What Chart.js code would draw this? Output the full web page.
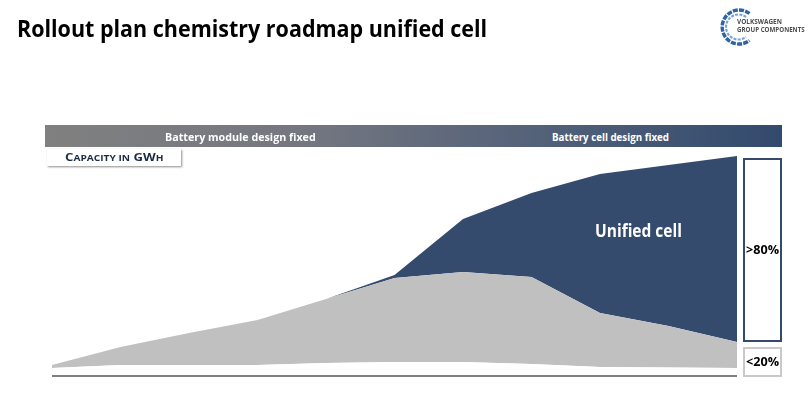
<!DOCTYPE html>
<html><head><meta charset="utf-8">
<script src="https://cdn.jsdelivr.net/npm/chart.js@4/dist/chart.umd.min.js"></script>
<style>
html,body{margin:0;padding:0;background:#fff;}
#wrap{position:relative;width:811px;height:395px;overflow:hidden;font-family:"Open Sans",Lato,sans-serif;}
#c{position:absolute;left:0;top:0;}
.t{position:absolute;white-space:nowrap;transform-origin:0 0;line-height:1;font-weight:700;}
.sm{font-size:8.5px;}
#banner{position:absolute;left:45px;top:125px;width:737px;height:22px;background:linear-gradient(to right,#808080 0%,#747780 35%,#505f78 70%,#324a6d 100%);}
#capbox{position:absolute;left:47px;top:149px;width:134px;height:17px;background:#fff;box-shadow:1px 1px 2px rgba(0,0,0,0.45);}
#box80{position:absolute;left:743px;top:158px;width:35px;height:180px;border:2px solid #34496b;background:#fff;}
#box20{position:absolute;left:743px;top:347px;width:35px;height:26px;border:2px solid #c9c9c9;background:#fff;}
#logo{position:absolute;left:716px;top:4px;}
</style></head><body>
<div id="wrap">
<canvas id="c" width="811" height="395"></canvas>
<div id="banner"></div>
<div id="capbox"></div>
<div id="box80"></div>
<div id="box20"></div>
<svg id="logo" width="40" height="46" viewBox="0 0 40 46">
  <path d="M 33.5 9.5 A 17 17 0 1 0 33.5 36.5" fill="none" stroke="#2f63a3" stroke-width="3.4" stroke-dasharray="5 1.2"/>
  <path d="M 30 13 A 12.5 12.5 0 1 0 30 33" fill="none" stroke="#7aa6d6" stroke-width="2.2" stroke-dasharray="3 1.2"/>
</svg>
<div id="title" class="t" style="font-size:24px;color:#000;">Rollout plan chemistry roadmap unified cell</div>
<div id="b1" class="t" style="font-size:11px;color:#fff;">Battery module design fixed</div>
<div id="b2" class="t" style="font-size:11px;color:#fff;">Battery cell design fixed</div>
<div id="cap" class="t" style="font-size:11px;color:#1c2b45;">C<span class="sm">APACITY IN</span> GW<span class="sm">H</span></div>
<div id="uc" class="t" style="font-size:18px;color:#fff;">Unified cell</div>
<div id="p80" class="t" style="font-size:13px;color:#000;">&gt;80%</div>
<div id="p20" class="t" style="font-size:13px;color:#000;">&lt;20%</div>
<div id="l1" class="t" style="font-size:7px;color:#4d4d4d;">VOLKSWAGEN</div>
<div id="l2" class="t" style="font-size:7px;color:#4d4d4d;">GROUP COMPONENTS</div>
</div>
<script>
// ---- data ----
const years = ['2018','2019','2020','2021','2022','2023','2024','2025','2026','2027','2028'];
const baseGap = [7, 10, 10, 10, 12, 13, 13, 11, 8, 7.5, 7];
const otherCells = [3, 18, 32, 45, 64, 84, 90, 87, 54, 41.5, 26];
const unifiedCell = [0, 0, 0, 0, 0, 3, 53, 84, 139, 161, 186];
const bannerLabels = ['Battery module design fixed', 'Battery cell design fixed'];
const shareLabels = ['>80%', '<20%'];

const axisLine = {
  id: 'axisLine',
  afterDatasetsDraw(chart) {
    const {ctx, chartArea: a} = chart;
    ctx.save();
    ctx.strokeStyle = '#7f7f7f';
    ctx.lineWidth = 2;
    ctx.beginPath();
    ctx.moveTo(a.left, a.bottom + 1);
    ctx.lineTo(a.right, a.bottom + 1);
    ctx.stroke();
    ctx.restore();
  }
};

new Chart(document.getElementById('c'), {
  type: 'line',
  data: {
    labels: years,
    datasets: [
      {label: 'Base', data: baseGap, fill: 'origin', backgroundColor: '#ffffff', borderColor: 'rgba(0,0,0,0)', borderWidth: 0, pointRadius: 0},
      {label: 'Other cells', data: otherCells, fill: '-1', backgroundColor: '#c0c0c0', borderColor: 'rgba(0,0,0,0)', borderWidth: 0, pointRadius: 0},
      {label: 'Unified cell', data: unifiedCell, fill: '-1', backgroundColor: '#344b6e', borderColor: 'rgba(0,0,0,0)', borderWidth: 0, pointRadius: 0}
    ]
  },
  options: {
    responsive: false,
    animation: false,
    devicePixelRatio: 1,
    layout: {padding: {left: 52, right: 74, top: 155, bottom: 20}},
    elements: {line: {tension: 0}},
    scales: {
      x: {display: false, offset: false},
      y: {display: false, stacked: true, min: 0, max: 220}
    },
    plugins: {legend: {display: false}, tooltip: {enabled: false}}
  },
  plugins: [axisLine]
});

document.getElementById('b1').textContent = bannerLabels[0];
document.getElementById('b2').textContent = bannerLabels[1];
document.getElementById('p80').textContent = shareLabels[0];
document.getElementById('p20').textContent = shareLabels[1];

// place text: fit width, position by baseline (Open Sans metrics, line-height 1)
function place(id, o) {
  const el = document.getElementById(id);
  const fs = parseFloat(el.style.fontSize);
  const w = el.offsetWidth;
  const s = o.width / w;
  el.style.transform = 'scaleX(' + s + ')';
  el.style.left = (o.cx !== undefined ? o.cx - o.width / 2 : o.x) + 'px';
  let baseline = o.baseline !== undefined ? o.baseline : o.cy + 0.357 * fs;
  el.style.top = (baseline - 0.888 * fs) + 'px';
}
function layoutText() {
  place('title', {x: 17, width: 470, baseline: 37});
  place('b1', {cx: 240, width: 151, cy: 136.5});
  place('b2', {cx: 610, width: 117, cy: 136.5});
  place('cap', {cx: 114, width: 98, baseline: 161});
  place('uc', {cx: 638, width: 87, baseline: 237});
  place('p80', {cx: 762, width: 33, cy: 249.5});
  place('p20', {cx: 762, width: 33, cy: 361.5});
  place('l1', {x: 737, width: 45, baseline: 24});
  place('l2', {x: 737, width: 68, baseline: 32});
}
layoutText();
if (document.fonts && document.fonts.ready) document.fonts.ready.then(layoutText);
</script>
</body></html>
